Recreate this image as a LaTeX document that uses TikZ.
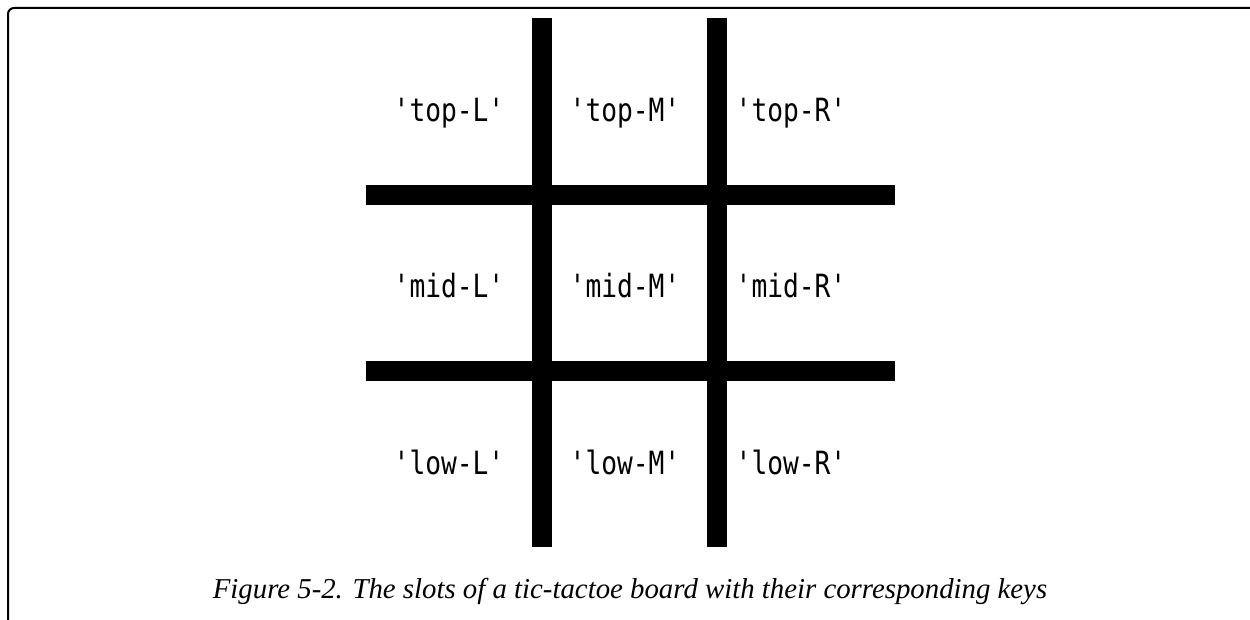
\documentclass[tikz,border=0pt]{standalone}
\usepackage{fontspec}
\setmainfont{Liberation Serif}
\newfontfamily\keyfont[FakeStretch=0.82]{DejaVu Sans Mono}
\begin{document}
\begin{tikzpicture}[x=1pt,y=-1pt,
  bar/.style={line width=20pt,black},
  frameline/.style={line width=2pt,black,rounded corners=6pt},
  keylabel/.style={font=\keyfont\fontsize{32}{32}\selectfont,anchor=base,inner sep=0pt},
  captext/.style={font=\itshape\fontsize{28.8}{28.8}\selectfont,anchor=base,inner sep=0pt}]
\useasboundingbox (0,0) rectangle (1250,620);
% frame
\draw[frameline] (8,621) -- (8,8) -- (1254,8);
% board
\coordinate (v1t) at (542,18); \coordinate (v1b) at (542,547);
\coordinate (v2t) at (717,18); \coordinate (v2b) at (717,547);
\coordinate (h1l) at (366,195); \coordinate (h1r) at (895,195);
\coordinate (h2l) at (366,371); \coordinate (h2r) at (895,371);
\draw[bar] (v1t) -- (v1b);
\draw[bar] (v2t) -- (v2b);
\draw[bar] (h1l) -- (h1r);
\draw[bar] (h2l) -- (h2r);
% labels
\node[keylabel] (tl) at (449,122) {'top-L'};
\node[keylabel] (tm) at (625,122) {'top-M'};
\node[keylabel] (tr) at (791,122) {'top-R'};
\node[keylabel] (ml) at (449,298) {'mid-L'};
\node[keylabel] (mm) at (625,298) {'mid-M'};
\node[keylabel] (mr) at (791,298) {'mid-R'};
\node[keylabel] (ll) at (449,474) {'low-L'};
\node[keylabel] (lm) at (625,474) {'low-M'};
\node[keylabel] (lr) at (791,474) {'low-R'};
% caption
\node[captext] (cap) at (630,598) {Figure 5-2. The slots of a tic-tactoe board with their corresponding keys};
\end{tikzpicture}
\end{document}
